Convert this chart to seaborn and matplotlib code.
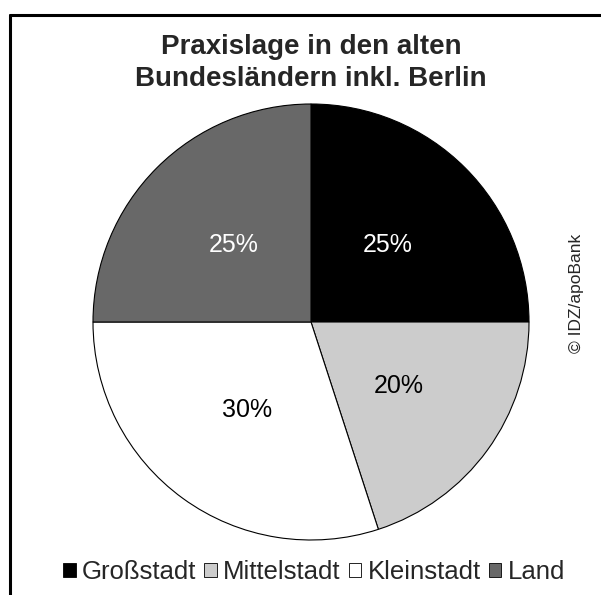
import matplotlib
matplotlib.use("Agg")
import matplotlib.pyplot as plt
from matplotlib.lines import Line2D
from matplotlib.patches import Patch
import seaborn as sns

# data
categories = ["Großstadt", "Mittelstadt", "Kleinstadt", "Land"]
shares = [25, 20, 30, 25]
slice_colors = ["#000000", "#cccccc", "#ffffff", "#686868"]
label_colors = ["white", "black", "black", "white"]
title = "Praxislage in den alten\nBundesländern inkl. Berlin"
credit = "© IDZ/apoBank"

sns.set_theme(style="white")
plt.rcParams["font.family"] = ["Liberation Sans", "DejaVu Sans"]

W, H = 601, 595
fig = plt.figure(figsize=(W / 100, H / 100), dpi=100)
fig.patch.set_facecolor("white")

# pie centre (311, 322) px, radius 218 px
cx, cy, r = 311, 322, 218
ax = fig.add_axes([(cx - r) / W, (H - cy - r) / H, 2 * r / W, 2 * r / H])

wedges, texts, autotexts = ax.pie(
    shares, colors=slice_colors, startangle=90, counterclock=False,
    autopct="%d%%", pctdistance=0.5,
    wedgeprops=dict(edgecolor="black", linewidth=0.8),
    textprops=dict(fontsize=18))
for t, c in zip(autotexts, label_colors):
    t.set_color(c)
ax.set_xlim(-1, 1)
ax.set_ylim(-1, 1)
ax.set_aspect("auto")
ax.axis("off")

fig.text(311 / W, 1 - 63 / H, title, ha="center", va="center",
         fontsize=20, fontweight="bold", linespacing=1.3)

fig.text(576 / W, 1 - 293 / H, credit, rotation=90, ha="center",
         va="center", fontsize=12.5)

handles = [Patch(facecolor=c, edgecolor="black", linewidth=0.6)
           for c in slice_colors]
fig.legend(handles, categories, loc="center", ncol=4,
           bbox_to_anchor=(314 / W, 1 - 572 / H), frameon=False,
           fontsize=18.5, handlelength=0.5, handleheight=0.5,
           handletextpad=0.25, columnspacing=0.3, borderaxespad=0,
           borderpad=0)

# partial frame round the figure (top and left only)
fig.add_artist(Line2D([10 / W, 1], [1 - 15 / H, 1 - 15 / H],
                      transform=fig.transFigure, color="black", linewidth=2.2))
fig.add_artist(Line2D([10 / W, 10 / W], [0, 1 - 15 / H],
                      transform=fig.transFigure, color="black", linewidth=2.2))

fig.savefig("out.png", dpi=100)
